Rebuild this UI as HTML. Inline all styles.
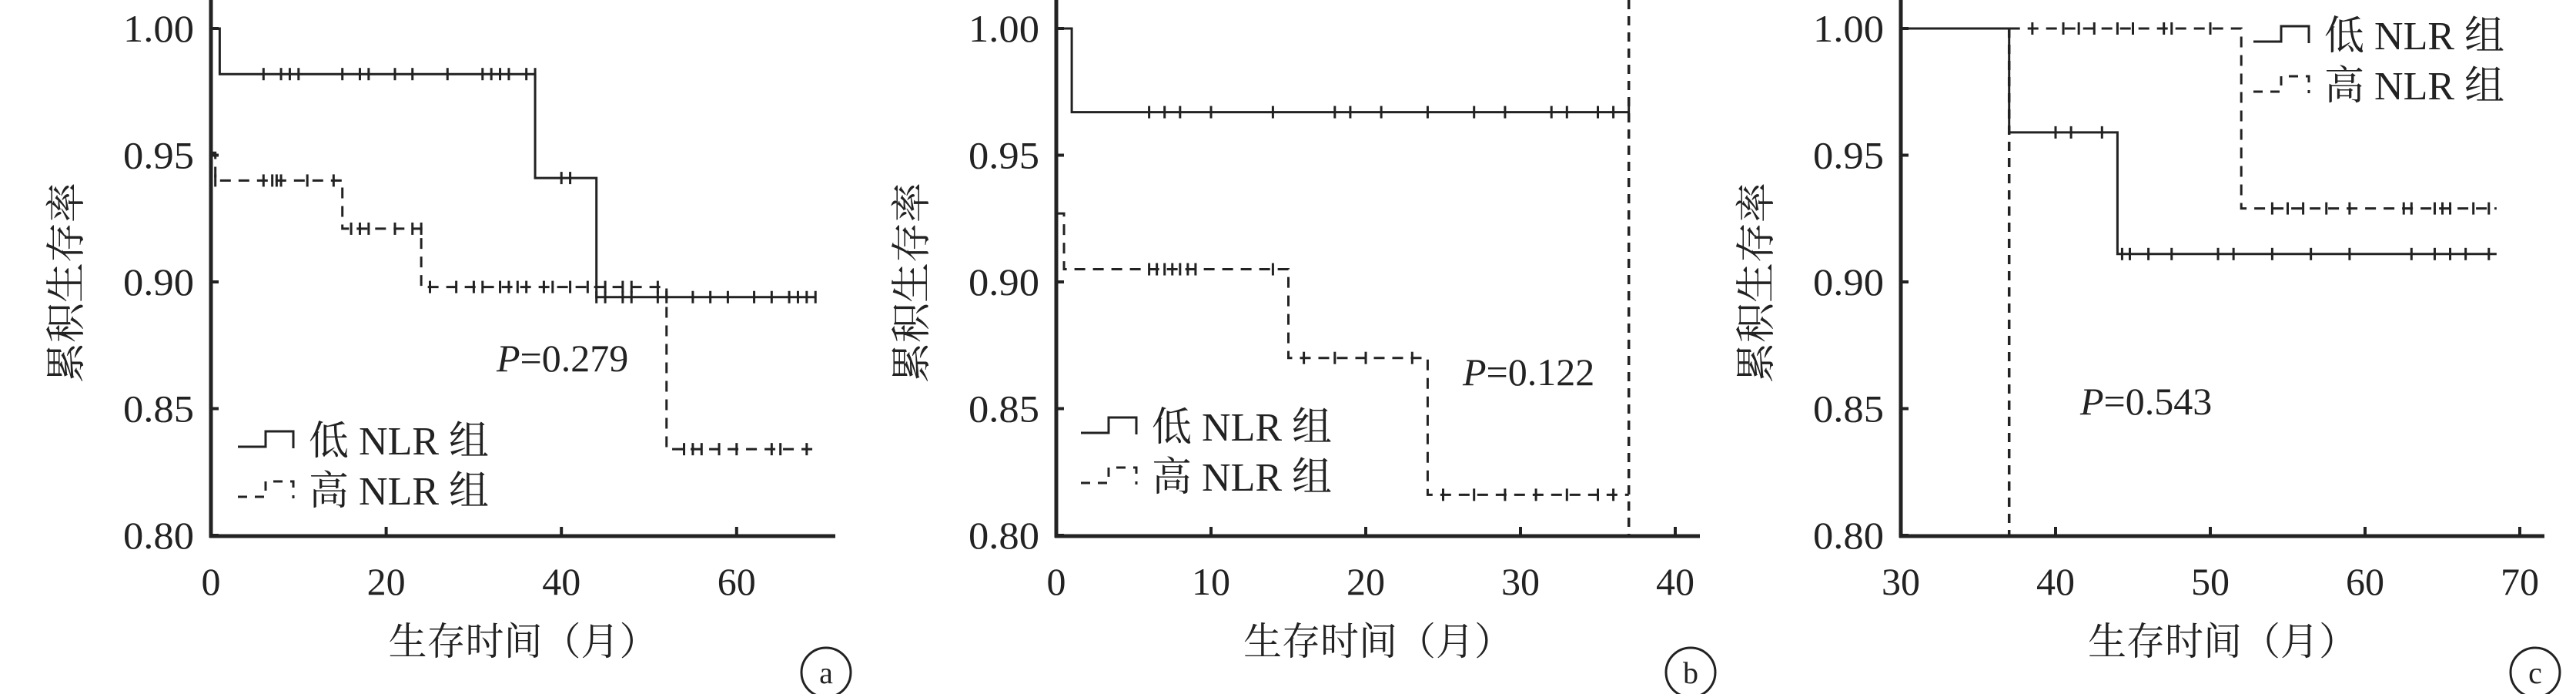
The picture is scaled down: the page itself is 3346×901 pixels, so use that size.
<!DOCTYPE html>
<html><head><meta charset="utf-8"><style>
html,body{margin:0;padding:0;background:#fff;}
svg{display:block;}
text{font-family:"Liberation Serif","Noto Serif CJK SC",serif;fill:#222;}
</style></head><body>
<svg id="s" width="3346" height="901" xmlns="http://www.w3.org/2000/svg"></svg>
<script>
const s=document.getElementById('s');let h='';
const Y=v=>37+(1-v)/0.05*164.5;
function panel(o){
 const X=o.X;
 h+=`<line x1="${o.ax}" y1="0" x2="${o.ax}" y2="698" stroke="#222" stroke-width="5"/>`;
 h+=`<line x1="${o.ax-2}" y1="696" x2="${o.aend}" y2="696" stroke="#222" stroke-width="5"/>`;
 [1,0.95,0.9,0.85,0.8].forEach(v=>{h+=`<line x1="${o.ax}" y1="${Y(v)}" x2="${o.ax+10}" y2="${Y(v)}" stroke="#222" stroke-width="4"/>`;
  h+=`<text x="${o.ax-22}" y="${Y(v)+17}" font-size="50" text-anchor="end" textLength="92" lengthAdjust="spacingAndGlyphs">${v.toFixed(2)}</text>`;});
 o.xt.forEach(t=>{h+=`<line x1="${X(t)}" y1="696" x2="${X(t)}" y2="684" stroke="#222" stroke-width="4"/>`;
  h+=`<text x="${X(t)}" y="772" font-size="50" text-anchor="middle">${t}</text>`;});
 h+=`<text transform="translate(${o.ax-170},367) rotate(-90)" font-size="52" text-anchor="middle" font-family="Noto Serif CJK SC,serif">累积生存率</text>`;
 h+=`<text x="${(o.ax+o.aend)/2}" y="850" font-size="50" text-anchor="middle" font-family="Noto Serif CJK SC,serif">生存时间（月）</text>`;
 h+=`<circle cx="${o.aend-12}" cy="873" r="32" fill="none" stroke="#222" stroke-width="3"/><text x="${o.aend-12}" y="887" font-size="40" text-anchor="middle">${o.lab}</text>`;
 o.curves.forEach(c=>{let d=`M${X(c.p[0][0])},${Y(c.p[0][1])}`;
  for(let i=1;i<c.p.length;i++){d+=` H${X(c.p[i][0])} V${Y(c.p[i][1])}`;} d+=` H${X(c.end)}`;
  h+=`<path d="${d}" fill="none" stroke="#222" stroke-width="3" ${c.dash?'stroke-dasharray="14,10"':''}/>`;
  c.cen.forEach(([t,v])=>{h+=`<line x1="${X(t)}" y1="${Y(v)-8}" x2="${X(t)}" y2="${Y(v)+8}" stroke="#222" stroke-width="3"/>`;});
 });
 if(o.vline) h+=`<line x1="${X(o.vline[0])}" y1="${o.vline[1]}" x2="${X(o.vline[0])}" y2="696" stroke="#222" stroke-width="3.5" stroke-dasharray="12,9"/>`;
 const [lx,ly]=o.leg;
 h+=`<path d="M${lx},${ly} H${lx+36} V${ly-20} H${lx+72} V${ly+2}" fill="none" stroke="#222" stroke-width="3"/>`;
 h+=`<path d="M${lx},${ly+65} H${lx+36} V${ly+45} H${lx+72} V${ly+67}" fill="none" stroke="#222" stroke-width="3" stroke-dasharray="12,10"/>`;
 h+=`<text x="${lx+92}" y="${ly+10}" font-size="52"><tspan font-family="Noto Serif CJK SC,serif">低</tspan> NLR <tspan font-family="Noto Serif CJK SC,serif">组</tspan></text>`;
 h+=`<text x="${lx+92}" y="${ly+75}" font-size="52"><tspan font-family="Noto Serif CJK SC,serif">高</tspan> NLR <tspan font-family="Noto Serif CJK SC,serif">组</tspan></text>`;
 h+=`<text x="${o.P[0]}" y="${o.P[1]}" font-size="50"><tspan font-style="italic">P</tspan>=${o.P[2]}</text>`;
}
const m=(a,v)=>a.map(t=>[t,v]);
panel({ax:274,aend:1085,X:t=>274+11.38*t,xt:[0,20,40,60],lab:'a',
 curves:[{p:[[0,1],[1,0.982],[37,0.941],[44,0.894]],end:69,
  cen:m([0,6,8,9,10,15,17,18,21,23,27,31,32,33,34,36,37],0.982).concat(m([40,41],0.941),m([44,45,47,48,51,52,55,57,59,62,64,66,67,68,69],0.894))},
  {dash:1,p:[[0,0.951],[0.5,0.940],[15,0.921],[24,0.898],[52,0.834]],end:69,
  cen:m([0.5,6,7,7.5,8,11,14],0.940).concat(m([16,17,18,21,23,24],0.921),m([25,28,30,31,33,34,35,36,38,39,41,43,45,47,48,51],0.898),m([54,55,56,58,60,64,65,68],0.834))}],
 leg:[309,580],P:[645,482,'0.279']});
panel({ax:1372,aend:2208,X:t=>1372+20.1*t,xt:[0,10,20,30,40],lab:'b',
 curves:[{p:[[0,1],[1,0.967]],end:37,cen:m([6,7,8,10,14,18,19,21,24,27,29,32,33,35,36,37],0.967)},
  {dash:1,p:[[0,0.927],[0.5,0.905],[15,0.870],[24,0.816]],end:37,
  cen:m([6,6.5,7,7.5,8,8.5,9,14],0.905).concat(m([16,18,20,23],0.870),m([25,27,29,31,33,35,36],0.816))}],
 vline:[37,0],leg:[1404,562],P:[1900,500,'0.122']});
panel({ax:2469,aend:3305,X:t=>2469+20.1*(t-30),xt:[30,40,50,60,70],lab:'c',
 curves:[{p:[[30,1],[37,0.959],[44,0.911]],end:68.5,cen:m([40,41,43],0.959).concat(m([44.3,44.8,46,47.5,50.5,51.5,54,56.5,59,63,64.5,65.5,66.5,68],0.911))},
  {dash:1,p:[[37,1],[52,0.929]],end:68.5,cen:m([38.5,40.5,41.5,42.5,44,45,47,47.5,50],1).concat(m([54,55,56,57.5,59,62.5,63,64.5,65,65.5,67,68],0.929))}],
 vline:[37,Y(1)],leg:[2927,54],P:[2702,538,'0.543']});
s.innerHTML=h;
</script>
</body></html>
